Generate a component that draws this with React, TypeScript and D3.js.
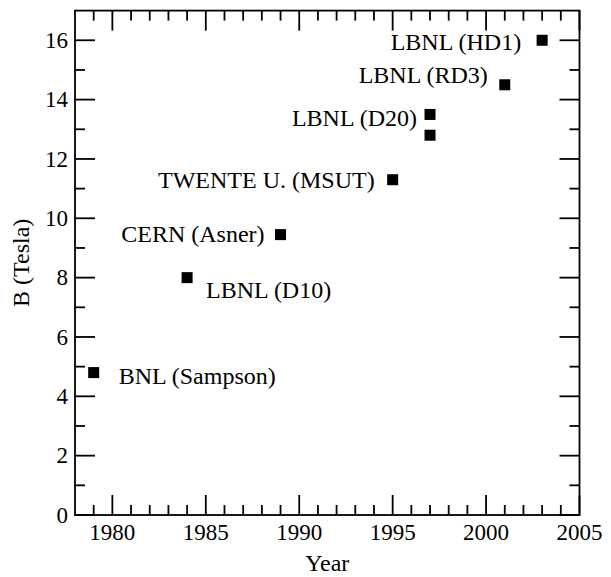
import React from "react";
import * as d3 from "d3";

const years = [1979, 1984, 1989, 1995, 1997, 1997, 2001, 2003];
const fields = [4.8, 8.0, 9.45, 11.3, 13.5, 12.8, 14.5, 16.0];
const labels = ["BNL (Sampson)", "LBNL (D10)", "CERN (Asner)", "TWENTE U. (MSUT)", "LBNL (D20)", "", "LBNL (RD3)", "LBNL (HD1)"];
const xTicks = [1980, 1985, 1990, 1995, 2000, 2005];
const yTicks = [0, 2, 4, 6, 8, 10, 12, 14, 16];

// label placement (offsets from the marker centre, in px)
const labelPlacement = [
  { dx: 25, dy: 11, anchor: "start" },
  { dx: 19, dy: 20, anchor: "start" },
  { dx: -16, dy: 7, anchor: "end" },
  { dx: -18, dy: 8, anchor: "end" },
  { dx: -13, dy: 12, anchor: "end" },
  { dx: 0, dy: 0, anchor: "end" },
  { dx: -17, dy: -2, anchor: "end" },
  { dx: -21, dy: 10, anchor: "end" },
];

const W = 611, H = 577;
const L = 75, R = 579.5, T = 10.6, B = 515;
const FONT = '"Liberation Serif", "DejaVu Serif", "Times New Roman", serif';

export default function App() {
  const x = d3.scaleLinear().domain([1978, 2005]).range([L, R]);
  const y = d3.scaleLinear().domain([0, 17]).range([B, T]);
  const xMinor = d3.range(1979, 2005, 1).filter((v) => v % 5 !== 0);
  const yMinor = d3.range(1, 17, 2);
  const sw = 1.8;
  const ms = 11;
  const ts = { fontFamily: FONT };
  return (
    <svg width={W} height={H} style={{ position: "absolute", left: 0, top: 0, background: "#fff", fontFamily: FONT }}>
      <rect x={L} y={T} width={R - L} height={B - T} fill="none" stroke="#000" strokeWidth={sw} />
      {xTicks.map((t) => (
        <g key={"xt" + t}>
          <line x1={x(t)} x2={x(t)} y1={B} y2={B - 20} stroke="#000" strokeWidth={sw} />
          <line x1={x(t)} x2={x(t)} y1={T} y2={T + 20} stroke="#000" strokeWidth={sw} />
          <text x={x(t)} y={B + 25} textAnchor="middle" fontSize={23} style={ts}>{t}</text>
        </g>
      ))}
      {xMinor.map((t) => (
        <g key={"xm" + t}>
          <line x1={x(t)} x2={x(t)} y1={B} y2={B - 10} stroke="#000" strokeWidth={sw} />
          <line x1={x(t)} x2={x(t)} y1={T} y2={T + 10} stroke="#000" strokeWidth={sw} />
        </g>
      ))}
      {yTicks.map((t) => (
        <g key={"yt" + t}>
          <line x1={L} x2={L + 20} y1={y(t)} y2={y(t)} stroke="#000" strokeWidth={sw} />
          <line x1={R} x2={R - 20} y1={y(t)} y2={y(t)} stroke="#000" strokeWidth={sw} />
          <text x={L - 7} y={y(t)} dy="0.34em" textAnchor="end" fontSize={23} style={ts}>{t}</text>
        </g>
      ))}
      {yMinor.map((t) => (
        <g key={"ym" + t}>
          <line x1={L} x2={L + 10} y1={y(t)} y2={y(t)} stroke="#000" strokeWidth={sw} />
          <line x1={R} x2={R - 10} y1={y(t)} y2={y(t)} stroke="#000" strokeWidth={sw} />
        </g>
      ))}
      {years.map((yr, i) => (
        <rect key={"p" + i} x={x(yr) - ms / 2} y={y(fields[i]) - ms / 2} width={ms} height={ms} fill="#000" />
      ))}
      {labels.map((lb, i) =>
        lb ? (
          <text key={"l" + i} x={x(years[i]) + labelPlacement[i].dx} y={y(fields[i]) + labelPlacement[i].dy}
            textAnchor={labelPlacement[i].anchor} fontSize={24} style={ts}>{lb}</text>
        ) : null
      )}
      <text x={(L + R) / 2} y={571} textAnchor="middle" fontSize={24} style={ts}>Year</text>
      <text transform={`translate(29,${(T + B) / 2}) rotate(-90)`} textAnchor="middle" fontSize={24} style={ts}>B (Tesla)</text>
    </svg>
  );
}
